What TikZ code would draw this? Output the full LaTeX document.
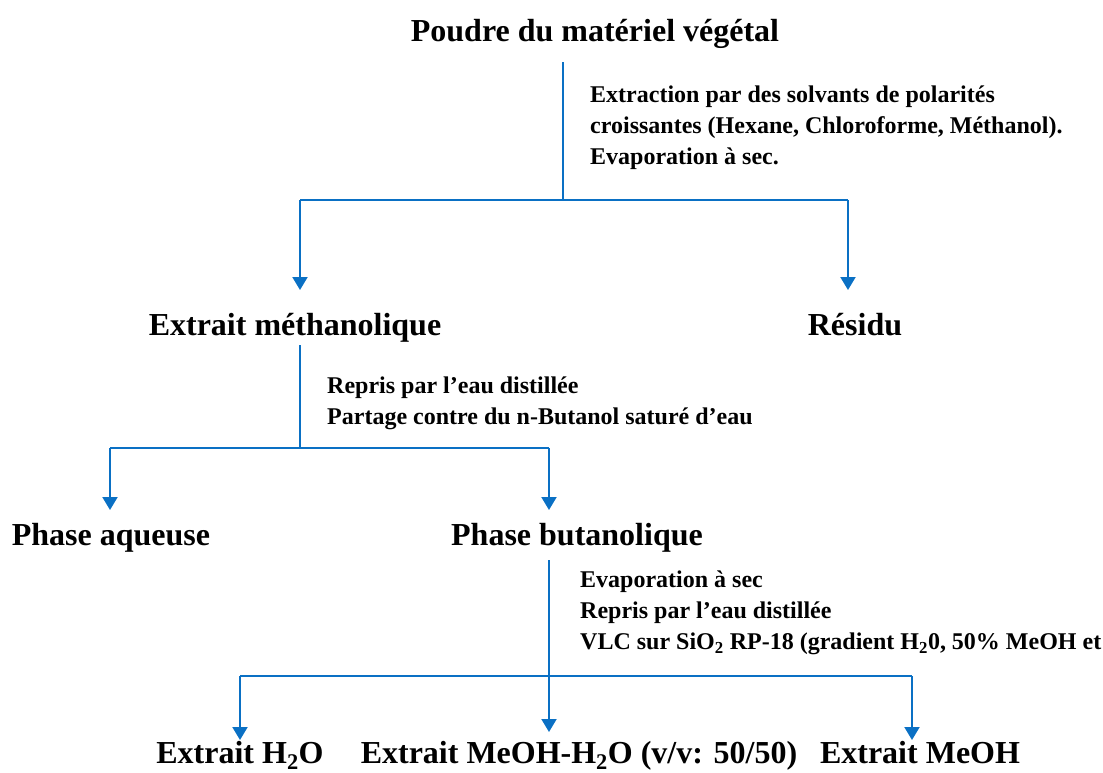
\documentclass[tikz,border=0pt]{standalone}
\usepackage{fontspec}
\setmainfont{Liberation Serif}
\usetikzlibrary{positioning, arrows.meta, calc}
\definecolor{flowline}{HTML}{0A70C4}
\begin{document}
\begin{tikzpicture}[x=1pt,y=-1pt,
  lbl/.style={inner sep=0pt, anchor=base, font=\fontsize{32}{36}\selectfont\bfseries},
  note/.style={inner sep=0pt, align=left, anchor=north west, font=\fontsize{24}{31}\selectfont\bfseries},
  ln/.style={flowline, line width=2pt},
  arr/.style={ln, -{Triangle[width=15pt,length=13pt]}}]
\useasboundingbox (0,0) rectangle (1103,772);
% level 0
\node[lbl](poudre) at (595,41) {Poudre du matériel végétal};
\node[note](n1) at (590,86) {Extraction par des solvants de polarités\\croissantes (Hexane, Chloroforme, Méthanol).\\Evaporation à sec.};
% level 1
\node[lbl](meth) at (295,335) {Extrait méthanolique};
\node[lbl](resid) at (855,335) {Résidu};
\node[note](n2) at (327,377) {Repris par l’eau distillée\\Partage contre du n-Butanol saturé d’eau};
% level 2
\node[lbl](aq) at (111,545) {Phase aqueuse};
\node[lbl](but) at (577,545) {Phase butanolique};
\node[note](n3) at (580,571) {Evaporation à sec\\Repris par l’eau distillée\\VLC sur SiO\textsubscript{2} RP-18 (gradient H\textsubscript{2}0, 50\% MeOH et};
% level 3
\node[lbl](eau) at (240,763) {Extrait H\textsubscript{2}O};
\node[lbl](mix) at (579,763) {Extrait MeOH-H\textsubscript{2}O (v/v: 50/50)};
\node[lbl](meoh) at (920,763) {Extrait MeOH};

% branch points
\coordinate (j1) at (563,200);
\coordinate (j1l) at (300,200);
\coordinate (j1r) at (848,200);
\coordinate (j2) at (300,448);
\coordinate (j2l) at (110,448);
\coordinate (j2r) at (549,448);
\coordinate (j3) at (549,676);
\coordinate (j3l) at (240,676);
\coordinate (j3r) at (912,676);

\draw[ln] ($(poudre.base -| j1)+(0,21)$) -- (j1);
\draw[ln] (j1l) -- (j1r);
\draw[arr] (j1l) -- ($(j1l |- meth.base)+(0,-45)$);
\draw[arr] (j1r) -- ($(j1r |- resid.base)+(0,-45)$);

\draw[ln] ($(meth.base -| j2)+(0,10)$) -- (j2);
\draw[ln] (j2l) -- (j2r);
\draw[arr] (j2l) -- ($(j2l |- aq.base)+(0,-35)$);
\draw[arr] (j2r) -- ($(j2r |- but.base)+(0,-35)$);

\draw[ln] ($(but.base -| j3)+(0,15)$) -- (j3);
\draw[ln] (j3l) -- (j3r);
\draw[arr] (j3l) -- ($(j3l |- eau.base)+(0,-23)$);
\draw[arr] (j3) -- ($(j3 |- mix.base)+(0,-31)$);
\draw[arr] (j3r) -- ($(j3r |- meoh.base)+(0,-23)$);
\end{tikzpicture}
\end{document}
